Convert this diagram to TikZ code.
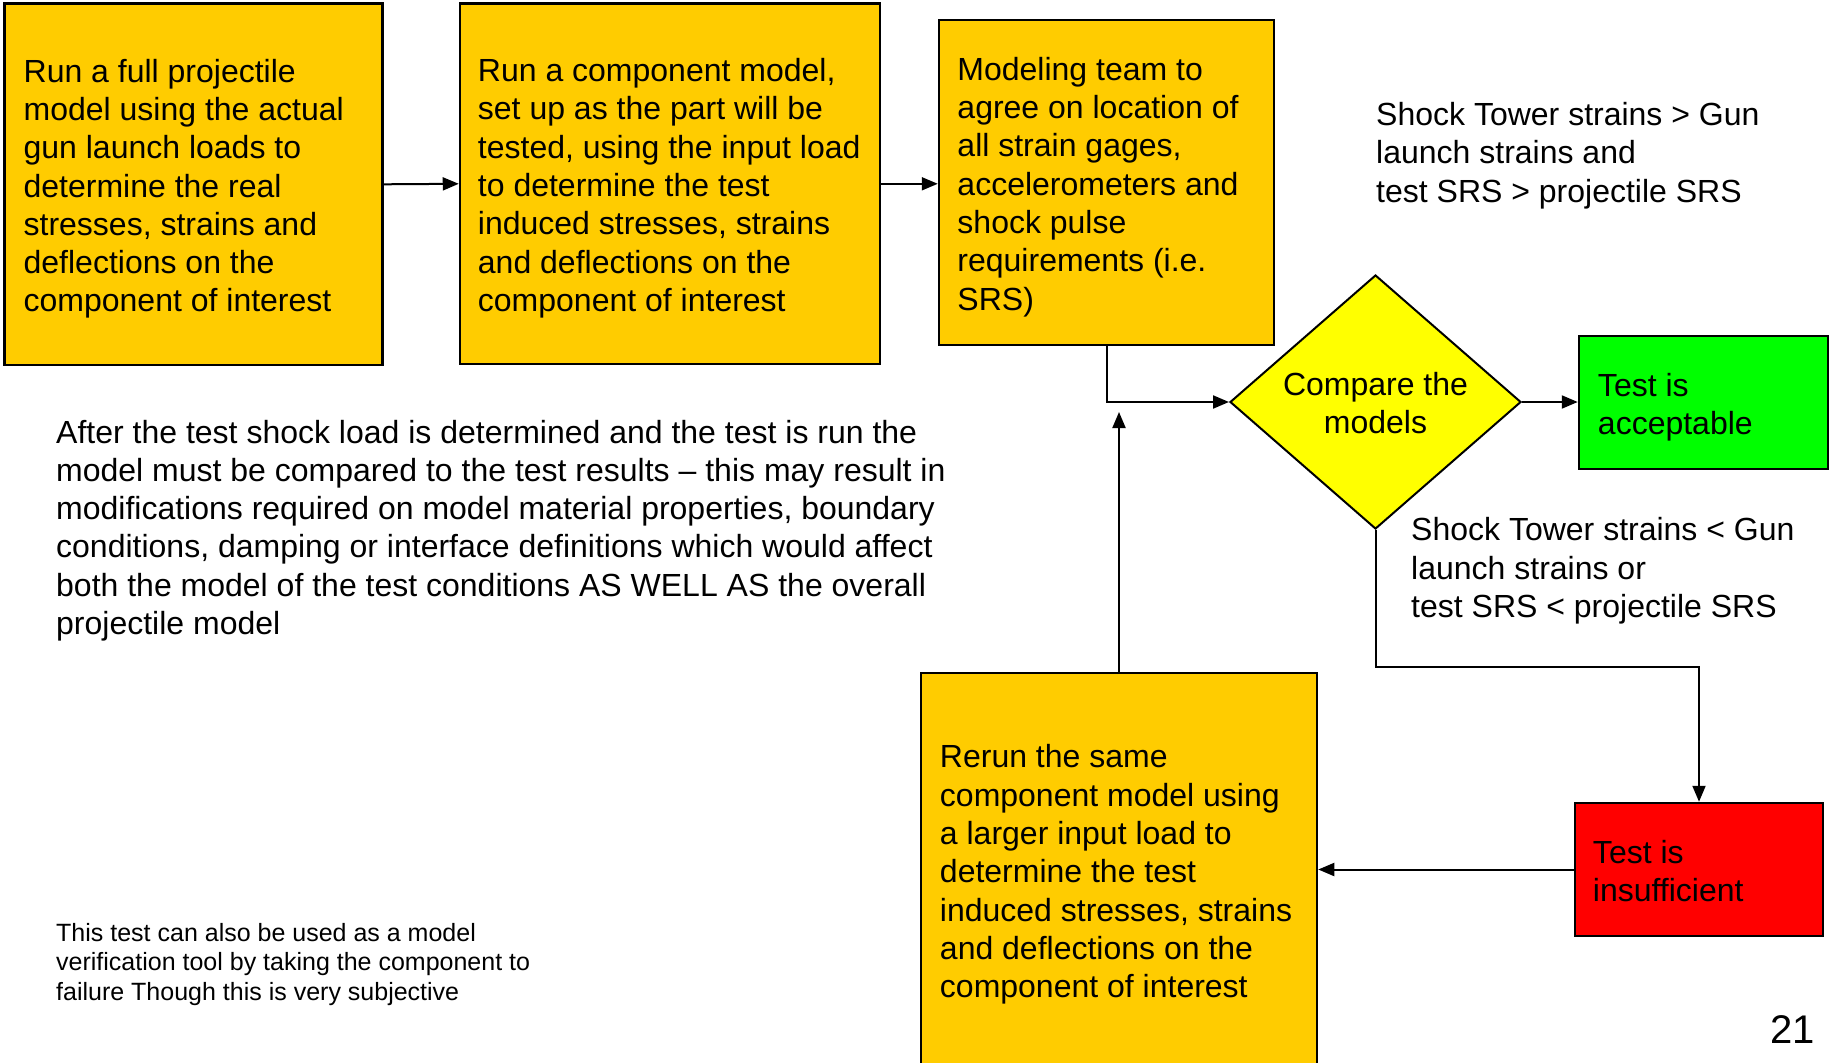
\documentclass[tikz,border=0pt]{standalone}
\usepackage{fontspec}
\setmainfont{Liberation Sans}
\usetikzlibrary{shapes.geometric,arrows.meta,calc}
\definecolor{boxgold}{HTML}{FFCC00}
\definecolor{decyellow}{HTML}{FFFF00}
\definecolor{okgreen}{HTML}{00FF00}
\definecolor{badred}{HTML}{FF0000}

\begin{document}
\begin{tikzpicture}[x=1pt,y=-1pt,
  stepbox/.style={draw=black, line width=2.5pt, fill=boxgold, rectangle, inner sep=0pt},
  endbox/.style={draw=black, line width=2.5pt, rectangle, inner sep=0pt},
  decision/.style={draw=black, line width=2pt, fill=decyellow, diamond, inner sep=0pt, aspect=1.15},
  txt/.style={inner sep=0pt, align=left, font=\fontsize{32}{38.3}\selectfont},
  note/.style={inner sep=0pt, align=left, font=\fontsize{25}{29.8}\selectfont},
  conn/.style={line width=2pt, -{Triangle[length=16pt,width=13pt]}}
]
\useasboundingbox (0,0) rectangle (1835,1062);
\clip (0,0) rectangle (1835,1062);

% process boxes
\node[stepbox, minimum width=378pt, minimum height=361.5pt] (b1) at (193.7,184.3) {};
\node[stepbox, minimum width=420pt, minimum height=360.5pt] (b2) at (670,183.8) {};
\node[stepbox, minimum width=335pt, minimum height=325pt] (b3) at (1106.5,182.5) {};
\node[stepbox, minimum width=396pt, minimum height=398pt] (b4) at (1119,872) {};

% decision and outcomes
\node[decision, minimum width=291pt, minimum height=254pt] (d) at (1375.5,402) {};
\node[endbox, fill=okgreen, minimum width=249pt, minimum height=133pt] (g) at (1703.5,402.5) {};
\node[endbox, fill=badred, minimum width=248pt, minimum height=133pt] (r) at (1699,869.5) {};

% box texts
\node[txt, anchor=west] (t1) at ([xshift=20pt,yshift=-4.5pt]b1.west) {Run a full projectile\\model using the actual\\gun launch loads to\\determine the real\\stresses, strains and\\deflections on the\\component of interest};
\node[txt, anchor=west] (t2) at ([xshift=19pt,yshift=-4.5pt]b2.west) {Run a component model,\\set up as the part will be\\tested, using the input load\\to determine the test\\induced stresses, strains\\and deflections on the\\component of interest};
\node[txt, anchor=west] (t3) at ([xshift=19.5pt,yshift=-4.5pt]b3.west) {Modeling team to\\agree on location of\\all strain gages,\\accelerometers and\\shock pulse\\requirements (i.e.\\SRS)};
\node[txt, anchor=west] (t4) at ([xshift=20pt,yshift=-2.5pt]b4.west) {Rerun the same\\component model using\\a larger input load to\\determine the test\\induced stresses, strains\\and deflections on the\\component of interest};
\node[txt, align=center] (td) at ([yshift=-1pt]d.center) {Compare the\\models};
\node[txt, anchor=west] (tg) at ([xshift=20pt,yshift=-4.5pt]g.west) {Test is\\acceptable};
\node[txt, anchor=west] (tr) at ([xshift=19pt,yshift=-1.5pt]r.west) {Test is\\insufficient};

% free texts
\node[txt, anchor=west] (cup) at (1376,155.5) {Shock Tower strains > Gun\\launch strains and\\test SRS > projectile SRS};
\node[txt, anchor=west] (clo) at (1411,571) {Shock Tower strains < Gun\\launch strains or\\test SRS < projectile SRS};
\node[txt, anchor=west] (para) at (56,530.5) {After the test shock load is determined and the test is run the\\model must be compared to the test results -- this may result in\\modifications required on model material properties, boundary\\conditions, damping or interface definitions which would affect\\both the model of the test conditions AS WELL AS the overall\\projectile model};
\node[note, anchor=west] (small) at (56,964.5) {This test can also be used as a model\\verification tool by taking the component to\\failure Though this is very subjective};
\node[inner sep=0pt, anchor=east, font=\fontsize{40}{48}\selectfont] (pg) at (1815,1030) {21};

% connectors
\draw[conn] (b1.east) -- (b2.west);
\draw[conn] (b2.east) -- (b2.east -| b3.west);
\draw[conn] (b3.south) |- (d.west);
\draw[conn] (d.east) -- (d.east -| g.west);
\coordinate (upend) at ([yshift=-10pt]b4.north |- d.west);
\draw[conn] (b4.north) -- (upend);
\coordinate (bend) at (d.south |- 0,667);
\draw[conn] (d.south) -- (bend) -| (r.north);
\draw[conn] (r.west) -- (r.west -| b4.east);
\end{tikzpicture}
\end{document}
